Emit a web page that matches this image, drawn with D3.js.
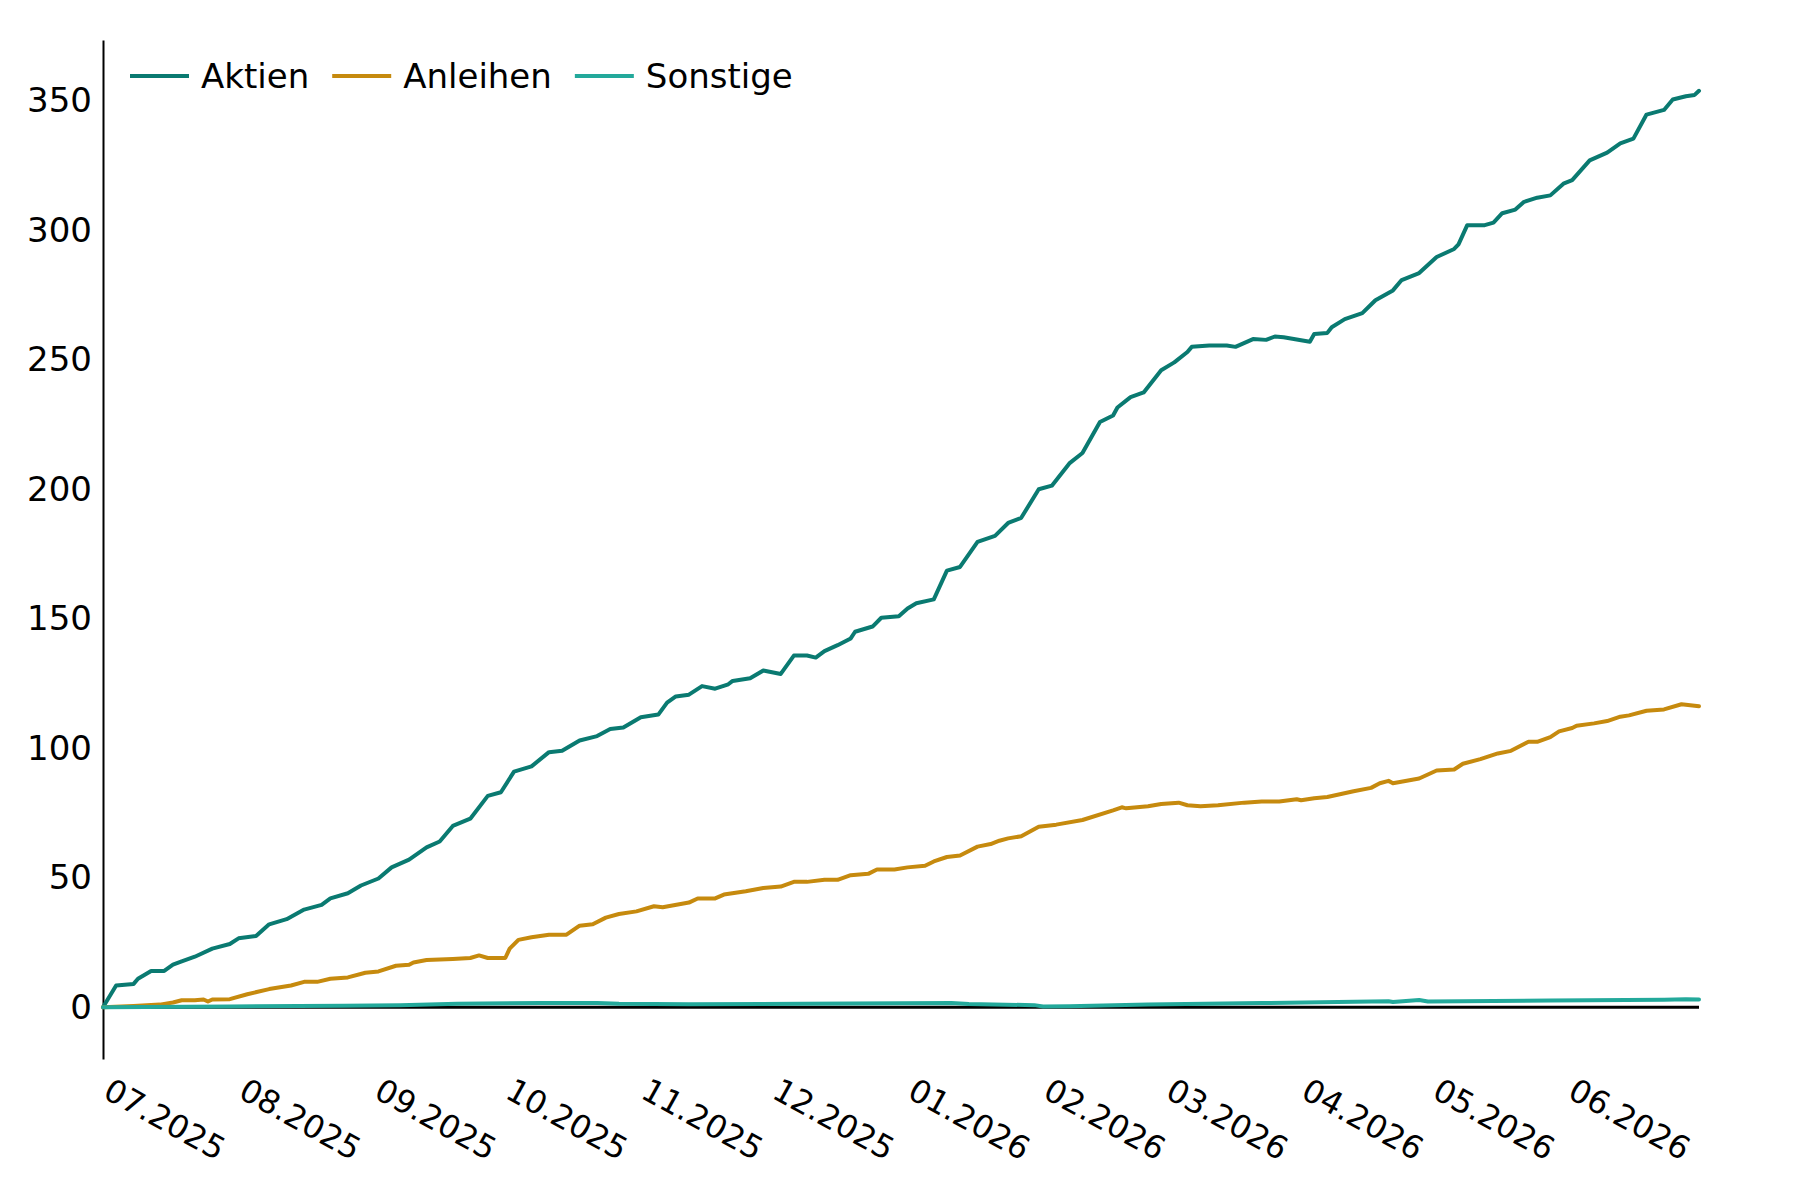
<html>
<head>
<title>Aktien / Anleihen / Sonstige</title>
<script src="https://cdnjs.cloudflare.com/ajax/libs/d3/7.8.5/d3.min.js"></script>
<style>
  body { margin: 0; background: #fff; }
  text { font-family: "DejaVu Sans", sans-serif; fill: #000; }
</style>
</head>
<body>
<svg id="chart" width="1800" height="1200"></svg>
<script>
// series names + colours
var seriesNames = ['Aktien', 'Anleihen', 'Sonstige'];
var seriesColors = ['#0a7a71', '#c68a0e', '#23a99b'];

// x tick labels (month.year) and y ticks
var monthLabels = ['07.2025', '08.2025', '09.2025', '10.2025', '11.2025', '12.2025',
                   '01.2026', '02.2026', '03.2026', '04.2026', '05.2026', '06.2026'];
var yTicks = [0, 50, 100, 150, 200, 250, 300, 350];

var startDate = new Date(2025, 6, 1);
var endDate = new Date(2026, 6, 1);

// [days since 01.07.2025, value]
var aktien = [[0,0],[3,8.4],[7,9],[8,11],[11,14],[14,14],[16,16.4],[18,17.7],[21,19.5],[25,22.6],
  [29,24.4],[31,26.6],[35,27.5],[38,32],[42,34],[46,37.7],[50,39.5],[52,42],[56,44],[59,47],
  [63,49.7],[66,54],[70,57],[74,61.7],[77,64],[80,70],[84,72.8],[88,81.6],[91,83],[94,91],
  [98,93],[102,98.5],[105,99],[109,103],[113,104.7],[116,107.4],[119,108],[123,112],[127,113],
  [129,117.6],[131,120],[134,120.7],[137,124],[140,123],[143,124.7],[144,126],[148,127],[151,130],
  [155,128.7],[158,135.8],[161,135.8],[163,135],[165,137.5],[168,139.8],[171,142.4],[172,145],
  [176,147],[178,150.4],[182,151],[184,154],[186,156],[190,157.5],[193,168.6],[196,170],[200,179.7],
  [204,182],[207,187],[210,189],[214,200],[217,201.4],[221,210],[224,214],[228,226],[231,228.5],
  [232,231.6],[235,235.6],[238,237.4],[242,246],[245,249],[248,253],[249,255],[253,255.5],
  [257,255.5],[259,255],[263,258],[266,257.7],[268,259],[270,258.7],[276,257],[277,260],[280,260.4],
  [281,262.6],[284,265.7],[288,268],[291,273],[295,276.8],[297,280.8],[301,283.5],[305,289.7],
  [309,292.8],[310,294.6],[312,302],[316,302],[318,303],[320,306.6],[323,308],[325,311],[328,312.6],
  [331,313.5],[334,318],[336,319.4],[340,327],[344,330],[347,333.6],[350,335.4],[353,344.7],
  [357,346.5],[359,350.5],[362,351.8],[364,352.3],[365,353.9]];

var anleihen = [[0,0],[7,0.5],[13,1],[16,1.8],[18,2.7],[21,2.7],[23,3],[24,2.2],[25,3],[29,3.1],
  [33,5],[38,7],[43,8.4],[46,9.8],[49,9.8],[52,11],[56,11.5],[60,13.3],[63,13.8],[67,16],[70,16.4],
  [71,17.3],[74,18.2],[80,18.6],[84,19],[86,20],[88,19],[92,19],[93,22.6],[95,26],[98,27],[102,28],
  [106,28],[109,31.5],[112,32],[115,34.6],[118,36],[122,37],[126,39],[128,38.6],[134,40.4],[136,42],
  [140,42],[142,43.5],[147,44.8],[151,46],[155,46.6],[158,48.4],[161,48.4],[165,49.2],[168,49.2],
  [171,51],[175,51.5],[177,53.2],[181,53.2],[184,54],[188,54.6],[190,56.3],[193,58],[196,58.6],
  [200,62],[203,63],[205,64.3],[207,65.2],[210,66],[214,69.7],[218,70.5],[224,72.3],[231,76],
  [233,77.2],[234,76.8],[239,77.6],[242,78.5],[246,79],[248,78],[251,77.6],[255,78],[261,79],
  [265,79.4],[269,79.4],[273,80.3],[274,79.9],[277,80.7],[280,81.2],[286,83.4],[290,84.7],[292,86.5],
  [294,87.4],[295,86.5],[301,88.3],[305,91.4],[309,91.8],[311,94],[315,95.8],[319,98],[322,99],
  [326,102.5],[328,102.5],[331,104.3],[333,106.5],[336,107.8],[337,108.7],[341,109.6],[344,110.5],
  [347,112.2],[349,112.7],[353,114.5],[357,115],[361,117],[365,116.2]];

var sonstige = [[0,0],[29,0.3],[55,0.6],[68,0.8],[81,1.3],[100,1.6],[113,1.6],[118,1.3],[134,1.1],
  [160,1.3],[194,1.6],[198,1.2],[213,0.8],[215,0.3],[221,0.4],[239,1.0],[265,1.6],[294,2.3],
  [295,2.0],[301,2.8],[303,2.2],[331,2.6],[357,2.9],[362,3.1],[365,3.0]];

var svg = d3.select('#chart');

var x = d3.scaleTime()
    .domain([startDate, endDate])
    .range([103, 1699]);

var y = d3.scaleLinear()
    .domain([-20, 373.5])
    .range([1059, 40]);

function dayToDate(n) { return d3.timeDay.offset(startDate, n); }

// y axis (line + labels, no ticks)
var yAxis = svg.append('g')
    .attr('transform', 'translate(' + x.range()[0] + ',0)')
    .call(d3.axisLeft(y).tickValues(yTicks).tickSize(0).tickPadding(11));
yAxis.select('.domain').attr('stroke', '#000').attr('stroke-width', 2);
yAxis.selectAll('text').style('font-size', '34px').style('font-family', '"DejaVu Sans", sans-serif');

// x axis - only rotated month labels
var parseMonth = d3.timeParse('%m.%Y');
var xAxis = svg.append('g')
    .attr('transform', 'translate(0,1097)')
    .call(d3.axisBottom(x)
        .tickValues(monthLabels.map(parseMonth))
        .tickFormat(function (d, i) { return monthLabels[i]; })
        .tickSize(0));
xAxis.select('.domain').remove();
xAxis.selectAll('text')
    .attr('x', 0).attr('y', 0).attr('dy', 0)
    .attr('text-anchor', 'start')
    .attr('transform', 'translate(-2,0) rotate(29)')
    .style('font-size', '32px')
    .style('font-family', '"DejaVu Sans", sans-serif');

// zero line
svg.append('line')
    .attr('x1', x.range()[0]).attr('x2', x.range()[1])
    .attr('y1', y(0)).attr('y2', y(0))
    .attr('stroke', '#000').attr('stroke-width', 3);

var line = d3.line()
    .x(function (d) { return x(dayToDate(d[0])); })
    .y(function (d) { return y(d[1]); });

var allSeries = [aktien, anleihen, sonstige];
svg.selectAll('path.series')
    .data(allSeries)
    .enter()
    .append('path')
    .attr('class', 'series')
    .attr('fill', 'none')
    .attr('stroke', function (d, i) { return seriesColors[i]; })
    .attr('stroke-width', 4)
    .attr('stroke-linejoin', 'round')
    .attr('stroke-linecap', 'round')
    .attr('d', line);

// legend
var legend = svg.append('g').attr('transform', 'translate(130,76)');
var lx = 0;
seriesNames.forEach(function (name, i) {
    var g = legend.append('g').attr('transform', 'translate(' + lx + ',0)');
    g.append('line')
        .attr('x1', 0).attr('x2', 59)
        .attr('stroke', seriesColors[i]).attr('stroke-width', 4);
    var t = g.append('text')
        .attr('x', 71).attr('dy', '0.35em')
        .style('font-size', '34px')
        .text(name);
    lx += 71 + t.node().getComputedTextLength() + 23;
});
</script>
</body>
</html>
